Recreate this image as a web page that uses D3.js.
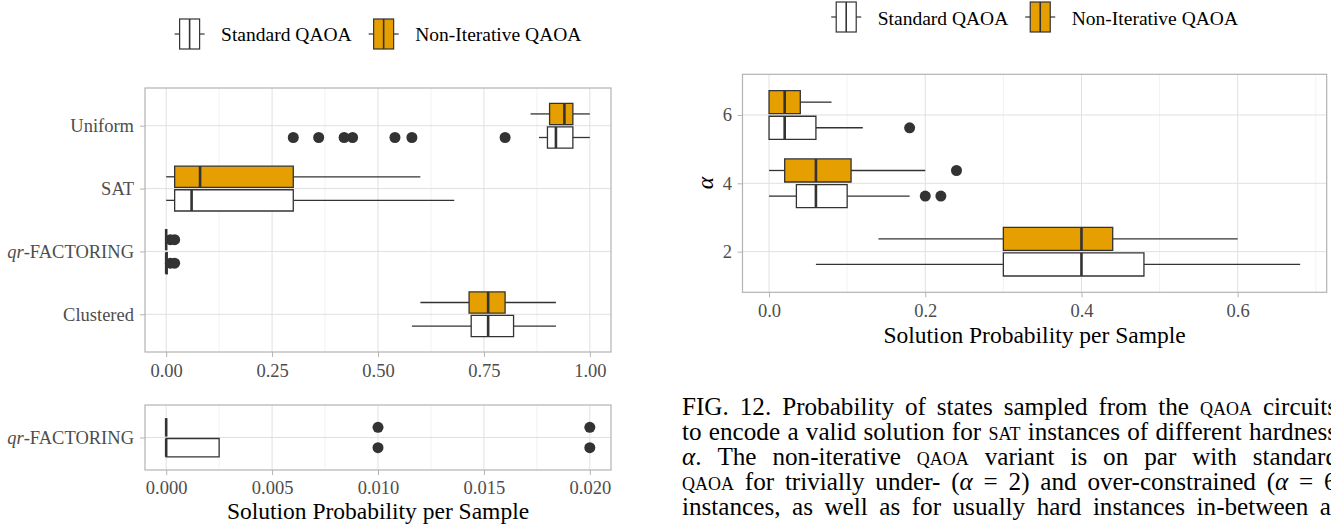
<!DOCTYPE html>
<html>
<head>
<meta charset="utf-8">
<script src="https://cdn.jsdelivr.net/npm/d3@7"></script>
<style>
  body { margin: 0; background: #fff; }
  svg { display: block; }
  text { font-family: "Liberation Serif", serif; }
</style>
</head>
<body>
<svg width="1331" height="529"></svg>
<script>
const seriesNames = ['Standard QAOA', 'Non-Iterative QAOA']
const seriesFill = ['#ffffff', '#e69f00']

// problem classes, top to bottom
const classNames = ['Uniform', 'SAT', 'qr-FACTORING', 'Clustered']
// [lower whisker, q1, median, q3, upper whisker]
const classStandard = [
  [0.88, 0.90, 0.92, 0.96, 1.00],
  [0.00, 0.02, 0.06, 0.30, 0.68],
  [0.00, 0.00, 0.00, 0.0025, 0.0025],
  [0.58, 0.72, 0.76, 0.82, 0.92]
]
const classNonIter = [
  [0.86, 0.905, 0.94, 0.96, 1.00],
  [0.00, 0.02, 0.08, 0.30, 0.60],
  [0.00, 0.00, 0.00, 0.00, 0.00],
  [0.60, 0.715, 0.76, 0.80, 0.92]
]
const classStandardOut = [[0.30, 0.36, 0.42, 0.44, 0.54, 0.58, 0.80], [], [0.01, 0.02], []]
const classNonIterOut = [[], [], [0.01, 0.02], []]

// clause/variable ratio
const alphas = [2, 4, 6]
const alphaStandard = [
  [0.06, 0.30, 0.40, 0.48, 0.68],
  [0.00, 0.035, 0.06, 0.10, 0.18],
  [0.00, 0.00, 0.02, 0.06, 0.12]
]
const alphaNonIter = [
  [0.14, 0.30, 0.40, 0.44, 0.60],
  [0.00, 0.02, 0.06, 0.105, 0.20],
  [0.00, 0.00, 0.02, 0.04, 0.08]
]
const alphaStandardOut = [[], [0.20, 0.22], [0.18]]
const alphaNonIterOut = [[], [0.24], []]

const xTicksClass = [0, 0.25, 0.5, 0.75, 1]
const xTicksZoom = [0, 0.005, 0.01, 0.015, 0.02]
const xTicksAlpha = [0, 0.2, 0.4, 0.6]
const yTicksAlpha = [2, 4, 6]

const xTitle = 'Solution Probability per Sample'

const svg = d3.select('svg')
const ink = '#333333'

// midpoints between major breaks, plus one on each side, kept inside the domain
const minorOf = (ticks, x) => {
  const step = ticks[1] - ticks[0]
  const [lo, hi] = x.domain()
  return [ticks[0] - step / 2, ...ticks.map((t) => t + step / 2)].filter((t) => t > lo && t < hi)
}

const drawFrame = (x, yLines, xTicks, fmt, pad) => {
  const [left, right] = x.range()
  const { top, bottom } = yLines
  const g = svg.append('g')
  g.selectAll('line.minor').data(minorOf(xTicks, x)).join('line')
    .attr('x1', (d) => x(d)).attr('x2', (d) => x(d))
    .attr('y1', top).attr('y2', bottom)
    .attr('stroke', '#ededed').attr('stroke-width', 0.7)
  g.selectAll('line.vmajor').data(xTicks).join('line')
    .attr('x1', (d) => x(d)).attr('x2', (d) => x(d))
    .attr('y1', top).attr('y2', bottom)
    .attr('stroke', '#e0e0e0').attr('stroke-width', 1)
  g.selectAll('line.hmajor').data(yLines.at).join('line')
    .attr('x1', left).attr('x2', right)
    .attr('y1', (d) => d).attr('y2', (d) => d)
    .attr('stroke', '#e0e0e0').attr('stroke-width', 1)

  const ax = svg.append('g')
    .attr('transform', `translate(0,${bottom})`)
    .call(d3.axisBottom(x).tickValues(xTicks).tickFormat(d3.format(fmt)).tickSize(5).tickPadding(pad))
  ax.select('.domain').remove()
  ax.selectAll('line').attr('stroke', '#b3b3b3')
  ax.selectAll('text').attr('fill', '#4d4d4d').attr('font-size', 18.5)
    .attr('font-family', 'Liberation Serif')
  return g
}

const drawBorder = (x, top, bottom) => {
  const [left, right] = x.range()
  svg.append('rect')
    .attr('x', left).attr('y', top)
    .attr('width', right - left).attr('height', bottom - top)
    .attr('fill', 'none').attr('stroke', '#b3b3b3').attr('stroke-width', 1.2)
}

const drawYAxis = (y, left, ticks, pad, fmt) => {
  const axis = d3.axisLeft(y).tickValues(ticks).tickSize(5).tickPadding(pad)
  if (fmt) axis.tickFormat(d3.format(fmt))
  const ay = svg.append('g')
    .attr('transform', `translate(${left},0)`)
    .call(axis)
  ay.select('.domain').remove()
  ay.selectAll('line').attr('stroke', '#b3b3b3')
  ay.selectAll('text').attr('fill', '#4d4d4d').attr('font-size', 18.5)
    .attr('font-family', 'Liberation Serif')
  return ay
}

// one box: s = [lo, q1, med, q3, hi]
const drawBox = (g, x, s, yc, half, fill, outliers) => {
  const [lo, q1, med, q3, hi] = s
  const b = g.append('g')
  b.append('line').attr('x1', x(lo)).attr('x2', x(q1)).attr('y1', yc).attr('y2', yc)
    .attr('stroke', ink).attr('stroke-width', 1.3)
  b.append('line').attr('x1', x(q3)).attr('x2', x(hi)).attr('y1', yc).attr('y2', yc)
    .attr('stroke', ink).attr('stroke-width', 1.3)
  b.append('path')
    .attr('d', `M${x(q1)},${yc - half}H${x(q3)}V${yc + half}H${x(q1)}Z`)
    .attr('fill', fill).attr('stroke', ink).attr('stroke-width', 1.3)
  b.append('line').attr('x1', x(med)).attr('x2', x(med))
    .attr('y1', yc - half).attr('y2', yc + half)
    .attr('stroke', ink).attr('stroke-width', 2.6)
  b.selectAll('circle').data(outliers).join('circle')
    .attr('cx', (d) => x(d)).attr('cy', yc).attr('r', 5.5).attr('fill', ink)
}

const drawLegend = (cx, cy, baseline) => {
  const g = svg.append('g')
  const items = g.selectAll('g').data(seriesNames).join('g')
  items.append('line').attr('x1', 0).attr('x2', 30).attr('y1', cy).attr('y2', cy)
    .attr('stroke', ink).attr('stroke-width', 1.2)
  items.append('rect').attr('x', 5).attr('y', cy - 15).attr('width', 20).attr('height', 30)
    .attr('fill', (d, i) => seriesFill[i]).attr('stroke', ink).attr('stroke-width', 1.2)
  items.append('line').attr('x1', 15).attr('x2', 15).attr('y1', cy - 15).attr('y2', cy + 15)
    .attr('stroke', ink).attr('stroke-width', 1.6)
  const labels = items.append('text').attr('x', 46.5).attr('y', baseline)
    .attr('font-size', 19.5).attr('fill', '#000').text((d) => d)
  const widths = labels.nodes().map((n) => n.getComputedTextLength())
  const offsets = [0, 30 + 16.5 + widths[0] + 17]
  const total = offsets[1] + 30 + 16.5 + widths[1]
  items.attr('transform', (d, i) => `translate(${cx - total / 2 + offsets[i]},0)`)
}

const drawXTitle = (cx, baseline) => {
  svg.append('text').attr('x', cx).attr('y', baseline).attr('text-anchor', 'middle')
    .attr('font-size', 23.5).attr('fill', '#000').text(xTitle)
}

// ---------- left: problem classes ----------
const xClass = d3.scaleLinear().domain([-0.05, 1.05]).range([145, 611])
const yClass = d3.scalePoint().domain(classNames).range([88, 352]).padding(0.6)
const stepC = yClass.step()

const gClass = drawFrame(xClass, { top: 88, bottom: 352, at: classNames.map((c) => yClass(c)) }, xTicksClass, '.2f', 7)
classNames.forEach((c, i) => {
  const yc = yClass(c)
  drawBox(gClass, xClass, classNonIter[i], yc - stepC * 0.1875, stepC * 0.169, seriesFill[1], classNonIterOut[i])
  drawBox(gClass, xClass, classStandard[i], yc + stepC * 0.1875, stepC * 0.169, seriesFill[0], classStandardOut[i])
})
drawBorder(xClass, 88, 352)
const italicQr = (t) => {
  t.append('tspan').attr('font-style', 'italic').text('qr')
  t.append('tspan').text('-FACTORING')
}
const ayClass = drawYAxis(yClass, 145, classNames, 6)
ayClass.selectAll('text').filter((d) => d === 'qr-FACTORING').text(null).call(italicQr)

// ---------- left bottom: zoom on qr-FACTORING ----------
const iQr = classNames.indexOf('qr-FACTORING')
const xZoom = d3.scaleLinear().domain([-0.001, 0.021]).range([145, 611])
const yZoom = d3.scalePoint().domain([classNames[iQr]]).range([405, 470]).padding(0.6)
const stepZ = yZoom.step()
const gZoom = drawFrame(xZoom, { top: 405, bottom: 470, at: [yZoom(classNames[iQr])] }, xTicksZoom, '.3f', 5.5)
drawBox(gZoom, xZoom, classNonIter[iQr], yZoom(classNames[iQr]) - stepZ * 0.1875, stepZ * 0.169, seriesFill[1], classNonIterOut[iQr])
drawBox(gZoom, xZoom, classStandard[iQr], yZoom(classNames[iQr]) + stepZ * 0.1875, stepZ * 0.169, seriesFill[0], classStandardOut[iQr])
drawBorder(xZoom, 405, 470)
const ayZoom = drawYAxis(yZoom, 145, [classNames[iQr]], 6)
ayZoom.selectAll('text').text(null).call(italicQr)
drawXTitle(378, 519)
drawLegend(378, 34, 41)

// ---------- right: hardness alpha ----------
const xAlpha = d3.scaleLinear().domain([-0.034, 0.714]).range([742.5, 1326.7])
const yAlpha = d3.scaleLinear().domain([0.81, 7.19]).range([292.3, 74.3])
const unitA = yAlpha(0) - yAlpha(1)
const gAlpha = drawFrame(xAlpha, { top: 74.3, bottom: 292.3, at: yTicksAlpha.map((a) => yAlpha(a)) }, xTicksAlpha, '.1f', 6.5)
alphas.forEach((a, i) => {
  drawBox(gAlpha, xAlpha, alphaNonIter[i], yAlpha(a + 0.375), unitA * 0.3375, seriesFill[1], alphaNonIterOut[i])
  drawBox(gAlpha, xAlpha, alphaStandard[i], yAlpha(a - 0.375), unitA * 0.3375, seriesFill[0], alphaStandardOut[i])
})
drawBorder(xAlpha, 74.3, 292.3)
drawYAxis(yAlpha, 742.5, yTicksAlpha, 5.5, 'd')
svg.append('text').attr('transform', `translate(713,183) rotate(-90)`)
  .attr('text-anchor', 'middle').attr('font-size', 23.5).attr('font-style', 'italic')
  .attr('fill', '#000').text('α')
drawXTitle(1034.6, 343)
drawLegend(1034.6, 17, 24.5)

// ---------- caption (a justified column, cut at the page edge) ----------
const captionLines = [
  [['FIG. 12. Probability of states sampled from the '], ['qaoa', 'sc'], [' circuits']],
  [['to encode a valid solution for '], ['sat', 'sc'], [' instances of different hardness']],
  [['α', 'it'], ['. The non-iterative '], ['qaoa', 'sc'], [' variant is on par with standard']],
  [['qaoa', 'sc'], [' for trivially under- ('], ['α', 'it'], [' = 2) and over-constrained ('], ['α', 'it'], [' = 6)']],
  [['instances, as well as for usually hard instances in-between at']]
]
const captionEnds = [1337, 1337, 1338, 1345, 1338]
const captionNodes = captionLines.map((line, i) => {
  const t = svg.append('text').attr('x', 682).attr('y', 415 + i * 25)
    .attr('font-size', 21).attr('fill', '#000')
  line.forEach(([s, k]) => {
    const sp = t.append('tspan').text(s)
    if (k === 'sc') sp.style('font-variant', 'small-caps')
    if (k === 'it') sp.attr('font-style', 'italic')
  })
  return t
})
// one font size for the column, then stretch word gaps to justify each line
const natural = captionNodes.map((t) => t.node().getComputedTextLength())
const capSize = 21 * d3.min(natural, (w, i) => (captionEnds[i] - 682) / w) * 0.985
captionNodes.forEach((t, i) => {
  t.attr('font-size', capSize)
  const w = t.node().getComputedTextLength()
  const gaps = captionLines[i].map((p) => p[0]).join('').split(' ').length - 1
  t.attr('word-spacing', (captionEnds[i] - 682 - w) / gaps)
})
</script>
</body>
</html>
